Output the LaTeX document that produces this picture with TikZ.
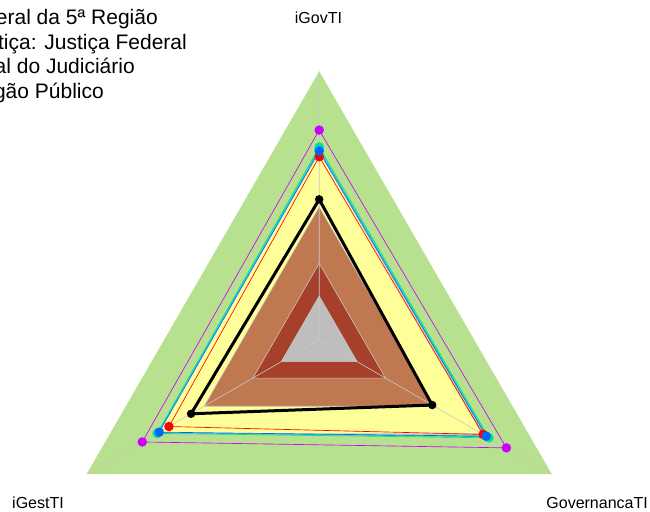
\documentclass[tikz,border=0pt]{standalone}
\usepackage{fontspec}
\setmainfont{Liberation Sans}
\definecolor{bandG}{RGB}{183,224,143}
\definecolor{bandY}{RGB}{255,255,153}
\definecolor{bandB}{RGB}{192,120,80}
\definecolor{bandR}{RGB}{166,64,42}
\definecolor{bandK}{RGB}{190,190,190}
\definecolor{gridc}{RGB}{200,200,200}
\definecolor{sMag}{RGB}{204,0,255}
\definecolor{sGrn}{RGB}{0,230,110}
\definecolor{sCyn}{RGB}{0,200,255}
\definecolor{sBlu}{RGB}{0,102,255}
\definecolor{sRed}{RGB}{255,0,0}
\begin{document}
\begin{tikzpicture}[x=1pt,y=1pt,
  band/.style={draw=gridc,line width=0.6pt},
  serie/.style={line width=0.65pt,line join=miter},
  dot/.style={circle,inner sep=0pt,minimum size=9.5pt},
  bdot/.style={circle,inner sep=0pt,minimum size=8.5pt,fill=black},
  lbl/.style={font=\fontsize{16}{18}\selectfont,inner sep=0pt},
  leg/.style={font=\fontsize{21}{24}\selectfont,inner sep=0pt,anchor=base east}]
\useasboundingbox (0,0) rectangle (650,511);
\clip (0,0) rectangle (650,511);
\begin{scope}[shift={(319.2pt,171.2pt)},x=268.5pt,y=268.5pt]
  % bands
  \fill[bandG] (90:1) -- (210:1) -- (330:1) -- cycle;
  \filldraw[band,fill=bandY] (90:0.70) -- (210:0.70) -- (330:0.70) -- cycle;
  \filldraw[band,fill=bandB] (90:0.495) -- (210:0.495) -- (330:0.495) -- cycle;
  \filldraw[band,fill=bandR] (90:0.285) -- (210:0.285) -- (330:0.285) -- cycle;
  \filldraw[band,fill=bandK] (90:0.163) -- (210:0.163) -- (330:0.163) -- cycle;
  % axes
  \coordinate (O) at (0,0);
  \coordinate (A1) at (90:1);
  \coordinate (A2) at (210:1);
  \coordinate (A3) at (330:1);
  \draw[gridc,line width=0.6pt] (O) -- (A1) (O) -- (A2) (O) -- (A3);
  % series points
  \coordinate (m1) at (90:0.781); \coordinate (m2) at (210:0.761); \coordinate (m3) at (330:0.805);
  \coordinate (g1) at (90:0.718); \coordinate (g2) at (210:0.697); \coordinate (g3) at (330:0.730);
  \coordinate (c1) at (90:0.710); \coordinate (c2) at (210:0.692); \coordinate (c3) at (330:0.722);
  \coordinate (b1) at (90:0.703); \coordinate (b2) at (210:0.688); \coordinate (b3) at (330:0.718);
  \coordinate (r1) at (90:0.682); \coordinate (r2) at (210:0.646); \coordinate (r3) at (330:0.705);
  \coordinate (k1) at (90:0.523); \coordinate (k2) at (210:0.551); \coordinate (k3) at (330:0.486);
  % series lines
  \draw[serie,sMag] (m1) -- (m2) -- (m3) -- cycle;
  \draw[serie,sGrn] (g1) -- (g2) -- (g3) -- cycle;
  \draw[serie,sCyn] (c1) -- (c2) -- (c3) -- cycle;
  \draw[serie,sBlu] (b1) -- (b2) -- (b3) -- cycle;
  \draw[serie,sRed] (r1) -- (r2) -- (r3) -- cycle;
  \draw[line width=3pt,black,line join=miter] (k1) -- (k2) -- (k3) -- cycle;
  % dots
  \foreach \i in {1,2,3} {
    \node[dot,fill=sMag] (dm\i) at (m\i) {};
    \node[dot,fill=sGrn] (dg\i) at (g\i) {};
    \node[dot,fill=sCyn] (dc\i) at (c\i) {};
    \node[dot,fill=sRed] (dr\i) at (r\i) {};
    \node[dot,fill=sBlu] (db\i) at (b\i) {};
    \node[bdot] (dk\i) at (k\i) {};
  }
\end{scope}
% axis labels
\node[lbl,anchor=base] (lgov) at (318.5,487) {iGovTI};
\node[lbl,anchor=base west] (lgest) at (12,3) {iGestTI};
\node[lbl,anchor=base east] (lgovern) at (648,3) {GovernancaTI};
% legend (clipped at the left, as in the reference)
\node[leg] (t1) at (158,486) {eral da 5ª Região};
\node[leg] (t2) at (187,461.5) {stiça: Justiça Federal};
\node[leg] (t3) at (135,437) {al do Judiciário};
\node[leg] (t4) at (104,412.5) {gão Público};
\end{tikzpicture}
\end{document}
